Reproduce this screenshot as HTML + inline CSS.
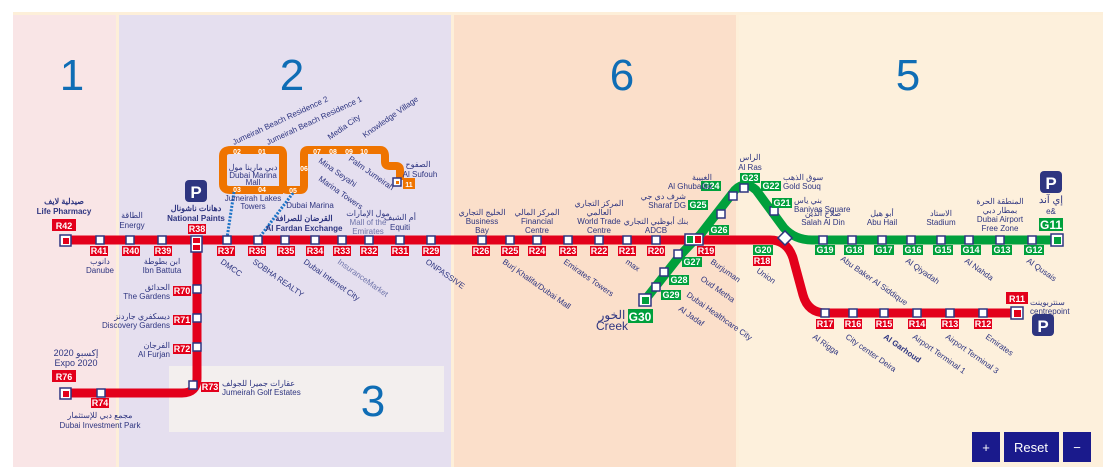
<!DOCTYPE html>
<html><head><meta charset="utf-8"><style>
html,body{margin:0;padding:0;background:#fff;width:1117px;height:467px;overflow:hidden}
svg{display:block;font-family:"Liberation Sans","Noto Sans CJK SC",sans-serif}
.s{fill:#fff;stroke:#2e3580;stroke-width:1.5}
.lb{font-size:8px;fill:#2e3580}
.rl{fill:#e3001b}
.rt{fill:#fff;font-size:9px;font-weight:bold;text-anchor:middle}
.gt{fill:#fff;font-size:9px;font-weight:bold;text-anchor:middle}
.ot{fill:#fff;font-size:7px;font-weight:bold;text-anchor:middle}
.c{text-anchor:middle}
</style></head><body>
<svg width="1117" height="467" viewBox="0 0 1117 467">
<rect x="13" y="12" width="1090" height="455" fill="#fdefd9"/>
<rect x="13" y="15" width="103" height="452" fill="#f9e5e6"/>
<rect x="119" y="15" width="332" height="452" fill="#e5dfef"/>
<rect x="454" y="15" width="282" height="452" fill="#fbdfca"/>
<rect x="739" y="15" width="364" height="452" fill="#fdf0dc"/>
<rect x="169" y="366" width="275" height="66" fill="#f3efee"/>
<g fill="#0f6db5" font-size="44" class="c">
<text x="72" y="90" text-anchor="middle">1</text>
<text x="292" y="90" text-anchor="middle">2</text>
<text x="622" y="90" text-anchor="middle">6</text>
<text x="908" y="90" text-anchor="middle">5</text>
<text x="373" y="416" text-anchor="middle">3</text>
</g>
<!-- tram -->
<g fill="none" stroke="#ef7400" stroke-width="8" stroke-linejoin="round">
<path d="M230 150 H280 Q283 150 283 155 V186 Q283 190 288 190 H300 Q304 190 304 186 V154 Q304 150 308 150 H380 Q385 150 385 156 V162 Q385 166 390 166 H396 Q400 166 400 170 V180"/>
<path d="M231 150 Q223 150 223 156 V184 Q223 190 230 190 H283"/>
</g>
<g stroke="#1b73c7" stroke-width="3" stroke-dasharray="2 1.5"><line x1="234" y1="192" x2="227" y2="238"/><line x1="293" y1="193" x2="259" y2="238"/></g>
<g class="ot"><text x="237" y="154">02</text><text x="262" y="154">01</text><text x="237" y="192">03</text><text x="262" y="192">04</text><text x="293" y="193">05</text><text x="304" y="171">06</text><text x="317" y="154">07</text><text x="333" y="154">08</text><text x="349" y="154">09</text><text x="364" y="154">10</text></g>
<rect x="393" y="178" width="8" height="8" class="s"/><rect x="396" y="181" width="3" height="3" fill="#ef7400"/>
<rect x="403" y="178" width="12" height="11" fill="#ef7400"/><text x="409" y="187" class="ot" font-size="9">11</text>
<text x="253" y="170" class="lb c" font-size="6">دبي مارينا مول</text><text x="253" y="178" class="lb c" font-size="6">Dubai Marina</text><text x="253" y="185" class="lb c" font-size="6">Mall</text>
<text x="418" y="167" class="lb c">الصفوح</text><text x="420" y="177" class="lb c">Al Sufouh</text>
<g class="lb" font-size="5"><text transform="translate(234,145) rotate(-25)">Jumeirah Beach Residence 2</text><text transform="translate(268,145) rotate(-25)">Jumeirah Beach Residence 1</text><text transform="translate(330,140) rotate(-35)">Media City</text><text transform="translate(365,138) rotate(-35)">Knowledge Village</text><text transform="translate(318,162) rotate(35)">Mina Seyahi</text><text transform="translate(318,180) rotate(35)">Marina Towers</text><text transform="translate(348,160) rotate(35)">Palm Jumeirah</text></g>
<text x="253" y="201" class="lb c" font-size="6">Jumeirah Lakes</text><text x="253" y="209" class="lb c" font-size="6">Towers</text>
<text x="310" y="208" class="lb c" font-size="7">Dubai Marina</text>
<!-- red line -->
<g fill="none" stroke="#e3001b" stroke-width="9">
<path d="M65 240 H770 Q787 240 793 258 L803 295 Q808 313 826 313 H1017"/>
<path d="M197 240 V378 Q197 393 182 393 H65"/>
</g>
<!-- green -->
<path d="M645 300 L678 258 Q690 244 700 235 L735 190 Q745 180 756 190 L784 228 Q795 240 812 240 H1057" fill="none" stroke="#00a03c" stroke-width="9"/>
<!-- stations -->
<g class="s">
<rect x="96" y="236" width="8" height="8"/><rect x="126" y="236" width="8" height="8"/><rect x="158" y="236" width="8" height="8"/><rect x="223" y="236" width="8" height="8"/><rect x="254" y="236" width="8" height="8"/><rect x="281" y="236" width="8" height="8"/><rect x="311" y="236" width="8" height="8"/><rect x="338" y="236" width="8" height="8"/><rect x="365" y="236" width="8" height="8"/><rect x="396" y="236" width="8" height="8"/><rect x="427" y="236" width="8" height="8"/><rect x="478" y="236" width="8" height="8"/><rect x="506" y="236" width="8" height="8"/><rect x="533" y="236" width="8" height="8"/><rect x="564" y="236" width="8" height="8"/><rect x="595" y="236" width="8" height="8"/><rect x="623" y="236" width="8" height="8"/><rect x="652" y="236" width="8" height="8"/>
<rect x="821" y="309" width="8" height="8"/><rect x="849" y="309" width="8" height="8"/><rect x="880" y="309" width="8" height="8"/><rect x="913" y="309" width="8" height="8"/><rect x="946" y="309" width="8" height="8"/><rect x="979" y="309" width="8" height="8"/>
<rect x="193" y="285" width="8" height="8"/><rect x="193" y="314" width="8" height="8"/><rect x="193" y="343" width="8" height="8"/><rect x="189" y="381" width="8" height="8"/><rect x="97" y="389" width="8" height="8"/>
<rect x="819" y="236" width="8" height="8"/><rect x="848" y="236" width="8" height="8"/><rect x="878" y="236" width="8" height="8"/><rect x="907" y="236" width="8" height="8"/><rect x="937" y="236" width="8" height="8"/><rect x="965" y="236" width="8" height="8"/><rect x="996" y="236" width="8" height="8"/><rect x="1028" y="236" width="8" height="8"/>
<rect x="770" y="207" width="8" height="8"/><rect x="740" y="184" width="8" height="8"/><rect x="729" y="192" width="8" height="8"/><rect x="717" y="210" width="8" height="8"/><rect x="674" y="250" width="8" height="8"/><rect x="660" y="268" width="8" height="8"/><rect x="652" y="283" width="8" height="8"/>
<rect x="60" y="235" width="11" height="11"/><rect x="60" y="388" width="11" height="11"/><rect x="1011" y="307" width="12" height="12"/><rect x="1051" y="234" width="12" height="12"/><rect x="639" y="294" width="12" height="12"/>
<rect x="191" y="236" width="11" height="16"/><rect x="685" y="234" width="18" height="11"/>
<rect x="780" y="233" width="10" height="10" transform="rotate(45 785 238)"/>
</g>
<g class="rl"><rect x="63" y="238" width="6" height="6"/><rect x="63" y="391" width="6" height="6"/><rect x="1014" y="310" width="7" height="7"/><rect x="193" y="238" width="7" height="5"/><rect x="193" y="245" width="7" height="5"/><rect x="695" y="236" width="6" height="7"/></g>
<g fill="#00a03c"><rect x="1054" y="237" width="7" height="7"/><rect x="642" y="297" width="7" height="7"/><rect x="687" y="236" width="6" height="7"/></g>
<g>
<rect x="52" y="219" width="24" height="12" class="rl"/><text x="64" y="229" class="rt" font-size="11">R42</text>
<rect x="52" y="370" width="24" height="12" class="rl"/><text x="64" y="380" class="rt" font-size="11">R76</text>
<rect x="1006" y="292" width="22" height="12" class="rl"/><text x="1017" y="302" class="rt" font-size="11">R11</text>
<rect x="188" y="224" width="18" height="10" class="rl"/><text x="197" y="232" class="rt">R38</text>
</g>
<g class="rl">
<rect x="90" y="246" width="18" height="10"/><rect x="122" y="246" width="18" height="10"/><rect x="154" y="246" width="18" height="10"/><rect x="217" y="246" width="18" height="10"/><rect x="248" y="246" width="18" height="10"/><rect x="277" y="246" width="18" height="10"/><rect x="306" y="246" width="18" height="10"/><rect x="333" y="246" width="18" height="10"/><rect x="360" y="246" width="18" height="10"/><rect x="391" y="246" width="18" height="10"/><rect x="422" y="246" width="18" height="10"/><rect x="472" y="246" width="18" height="10"/><rect x="501" y="246" width="18" height="10"/><rect x="528" y="246" width="18" height="10"/><rect x="559" y="246" width="18" height="10"/><rect x="590" y="246" width="18" height="10"/><rect x="618" y="246" width="18" height="10"/><rect x="647" y="246" width="18" height="10"/><rect x="697" y="246" width="18" height="10"/><rect x="753" y="256" width="18" height="10"/>
<rect x="816" y="319" width="18" height="10"/><rect x="844" y="319" width="18" height="10"/><rect x="875" y="319" width="18" height="10"/><rect x="908" y="319" width="18" height="10"/><rect x="941" y="319" width="18" height="10"/><rect x="974" y="319" width="18" height="10"/>
<rect x="173" y="286" width="18" height="10"/><rect x="173" y="315" width="18" height="10"/><rect x="173" y="344" width="18" height="10"/><rect x="201" y="382" width="18" height="10"/><rect x="91" y="398" width="18" height="10"/>
</g>
<g class="rt">
<text x="99" y="254">R41</text><text x="131" y="254">R40</text><text x="163" y="254">R39</text><text x="226" y="254">R37</text><text x="257" y="254">R36</text><text x="286" y="254">R35</text><text x="315" y="254">R34</text><text x="342" y="254">R33</text><text x="369" y="254">R32</text><text x="400" y="254">R31</text><text x="431" y="254">R29</text><text x="481" y="254">R26</text><text x="510" y="254">R25</text><text x="537" y="254">R24</text><text x="568" y="254">R23</text><text x="599" y="254">R22</text><text x="627" y="254">R21</text><text x="656" y="254">R20</text><text x="706" y="254">R19</text><text x="762" y="264">R18</text>
<text x="825" y="327">R17</text><text x="853" y="327">R16</text><text x="884" y="327">R15</text><text x="917" y="327">R14</text><text x="950" y="327">R13</text><text x="983" y="327">R12</text>
<text x="182" y="294">R70</text><text x="182" y="323">R71</text><text x="182" y="352">R72</text><text x="210" y="390">R73</text><text x="100" y="406">R74</text>
</g>
<g fill="#00a03c">
<rect x="815" y="245" width="20" height="10"/><rect x="844" y="245" width="20" height="10"/><rect x="874" y="245" width="20" height="10"/><rect x="903" y="245" width="20" height="10"/><rect x="933" y="245" width="20" height="10"/><rect x="961" y="245" width="20" height="10"/><rect x="992" y="245" width="20" height="10"/><rect x="1024" y="245" width="20" height="10"/><rect x="753" y="245" width="20" height="10"/>
<rect x="1039" y="218" width="24" height="13"/><rect x="628" y="309" width="25" height="14"/>
<rect x="772" y="198" width="20" height="10"/><rect x="761" y="181" width="20" height="10"/><rect x="740" y="173" width="20" height="10"/><rect x="701" y="181" width="20" height="10"/><rect x="688" y="200" width="20" height="10"/><rect x="709" y="225" width="20" height="10"/><rect x="682" y="257" width="20" height="10"/><rect x="669" y="275" width="20" height="10"/><rect x="661" y="290" width="20" height="10"/>
</g>
<g class="gt">
<text x="825" y="253">G19</text><text x="854" y="253">G18</text><text x="884" y="253">G17</text><text x="913" y="253">G16</text><text x="943" y="253">G15</text><text x="971" y="253">G14</text><text x="1002" y="253">G13</text><text x="1034" y="253">G12</text><text x="763" y="253">G20</text>
<text x="1051" y="229" font-size="12">G11</text><text x="640" y="321" font-size="12">G30</text>
<text x="782" y="206">G21</text><text x="771" y="189">G22</text><text x="750" y="181">G23</text><text x="711" y="189">G24</text><text x="698" y="208">G25</text><text x="719" y="233">G26</text><text x="692" y="265">G27</text><text x="679" y="283">G28</text><text x="671" y="298">G29</text>
</g>
<g fill="#2e3580"><rect x="185" y="180" width="22" height="22" rx="4"/><rect x="1040" y="171" width="22" height="22" rx="4"/><rect x="1032" y="314" width="22" height="22" rx="4"/></g>
<g fill="#fff" font-size="17" font-weight="bold" text-anchor="middle"><text x="196" y="198">P</text><text x="1051" y="189">P</text><text x="1043" y="332">P</text></g>
<g class="lb c">
<text x="64" y="204" font-weight="bold" font-size="8">صيدلية لايف</text><text x="64" y="214" font-weight="bold">Life Pharmacy</text>
<text x="132" y="218">الطاقة</text><text x="132" y="228">Energy</text>
<text x="196" y="211" font-weight="bold">دهانات ناشونال</text><text x="196" y="221" font-weight="bold">National Paints</text>
<text x="304" y="221" font-weight="bold">القرضان للصرافة</text><text x="304" y="231" font-weight="bold">Al Fardan Exchange</text>
<text x="368" y="216">مول الإمارات</text><text x="368" y="225" fill="#6f74aa">Mall of the</text><text x="368" y="234" fill="#6f74aa">Emirates</text>
<text x="400" y="220">أم الشيف</text><text x="400" y="230">Equiti</text>
<text x="482" y="215">الخليج التجاري</text><text x="482" y="224">Business</text><text x="482" y="233">Bay</text>
<text x="537" y="215">المركز المالي</text><text x="537" y="224">Financial</text><text x="537" y="233">Centre</text>
<text x="599" y="206">المركز التجاري</text><text x="599" y="215">العالمي</text><text x="599" y="224">World Trade</text><text x="599" y="233">Centre</text>
<text x="656" y="224">بنك أبوظبي التجاري</text><text x="656" y="233">ADCB</text>
<text x="750" y="160">الراس</text><text x="750" y="170">Al Ras</text>
<text x="823" y="216">صلاح الدين</text><text x="823" y="225">Salah Al Din</text>
<text x="882" y="216">أبو هيل</text><text x="882" y="225">Abu Hail</text>
<text x="941" y="216">الاستاد</text><text x="941" y="225">Stadium</text>
<text x="1000" y="204">المنطقة الحرة</text><text x="1000" y="213">بمطار دبي</text><text x="1000" y="222">Dubai Airport</text><text x="1000" y="231">Free Zone</text>
<text x="1051" y="203" font-size="10">إي آند</text><text x="1051" y="214">e&amp;</text>
<text x="76" y="356" font-size="9">إكسبو 2020</text><text x="76" y="366" font-size="9">Expo 2020</text>
<text x="100" y="418">مجمع دبي للإستثمار</text><text x="100" y="428">Dubai Investment Park</text>
<text x="100" y="264">دانوب</text><text x="100" y="273">Danube</text>
<text x="162" y="264">ابن بطوطة</text><text x="162" y="273">Ibn Battuta</text>
<text x="612" y="319" font-size="12">الخور</text><text x="612" y="330" font-size="12">Creek</text>
</g>
<g class="lb">
<text x="712" y="189" text-anchor="end">Al Ghubaiba</text><text x="712" y="180" text-anchor="end">الغبيبة</text>
<text x="686" y="208" text-anchor="end">Sharaf DG</text><text x="686" y="199" text-anchor="end">شرف دي جي</text>
<text x="783" y="189">Gold Souq</text><text x="783" y="180">سوق الذهب</text>
<text x="794" y="212">Baniyas Square</text><text x="794" y="203">بني ياس</text>
<text x="1030" y="305">سنتربوينت</text><text x="1030" y="314">centrepoint</text>
<text x="170" y="290" text-anchor="end">الحدائق</text><text x="170" y="299" text-anchor="end">The Gardens</text>
<text x="170" y="319" text-anchor="end">ديسكفري جاردنز</text><text x="170" y="328" text-anchor="end">Discovery Gardens</text>
<text x="170" y="348" text-anchor="end">الفرجان</text><text x="170" y="357" text-anchor="end">Al Furjan</text>
<text x="222" y="386">عقارات جميرا للجولف</text><text x="222" y="395">Jumeirah Golf Estates</text>
</g>
<g class="lb" font-size="7.5">
<text transform="translate(220,263) rotate(35)">DMCC</text>
<text transform="translate(252,263) rotate(35)">SOBHA REALTY</text>
<text transform="translate(303,263) rotate(35)">Dubai Internet City</text>
<text transform="translate(337,263) rotate(35)" fill="#6f74aa">InsuranceMarket</text>
<text transform="translate(425,263) rotate(35)">ONPASSIVE</text>
<text transform="translate(502,263) rotate(35)">Burj Khalifa/Dubai Mall</text>
<text transform="translate(563,263) rotate(35)">Emirates Towers</text>
<text transform="translate(625,263) rotate(35)">max</text>
<text transform="translate(710,263) rotate(35)">Burjuman</text>
<text transform="translate(700,280) rotate(35)">Oud Metha</text>
<text transform="translate(686,296) rotate(35)">Dubai Healthcare City</text>
<text transform="translate(678,310) rotate(35)">Al Jadaf</text>
<text transform="translate(756,272) rotate(35)">Union</text>
<text transform="translate(840,260) rotate(35)">Abu Baker Al Siddique</text>
<text transform="translate(905,262) rotate(35)">Al Qiyadah</text>
<text transform="translate(964,262) rotate(35)">Al Nahda</text>
<text transform="translate(1026,262) rotate(35)">Al Qusais</text>
<text transform="translate(812,338) rotate(35)">Al Rigga</text>
<text transform="translate(845,338) rotate(35)">City center Deira</text>
<text transform="translate(883,338) rotate(35)" font-weight="bold">Al Garhoud</text>
<text transform="translate(912,338) rotate(35)">Airport Terminal 1</text>
<text transform="translate(945,338) rotate(35)">Airport Terminal 3</text>
<text transform="translate(985,338) rotate(35)">Emirates</text>
</g>
<g fill="#1a1a8c"><rect x="972" y="432" width="28" height="30"/><rect x="1004" y="432" width="55" height="30"/><rect x="1063" y="432" width="28" height="30"/></g>
<g fill="#fff" text-anchor="middle"><text x="986" y="452" font-size="13">+</text><text x="1031" y="452" font-size="13">Reset</text><text x="1077" y="452" font-size="13">−</text></g>
</svg>
</body></html>
